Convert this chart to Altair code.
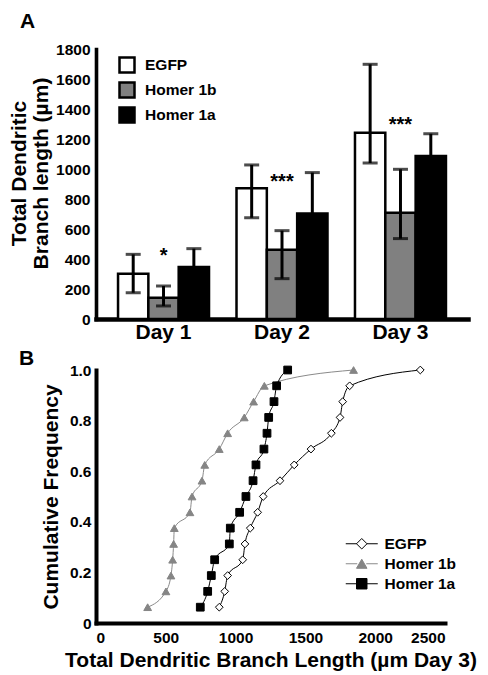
import altair as alt
import pandas as pd

# ---------------- Panel A data ----------------
days = ["Day 1", "Day 2", "Day 3"]
groups = ["EGFP", "Homer 1b", "Homer 1a"]
bar_colors = ["white", "#808080", "black"]

egfp_mean = [302, 871, 1242]
egfp_lo = [175, 675, 1040]
egfp_hi = [431, 1027, 1698]
h1b_mean = [142, 462, 709]
h1b_lo = [87, 269, 536]
h1b_hi = [220, 589, 998]
h1a_mean = [347, 704, 1087]
h1a_lo = [225, 432, 939]
h1a_hi = [469, 976, 1235]

sig_labels = ["*", "***", "***"]
sig_y = [380, 873, 1253]

# ---------------- Panel B data ----------------
cum_freq = [0.0625, 0.125, 0.1875, 0.25, 0.3125, 0.375, 0.4375, 0.5,
            0.5625, 0.625, 0.6875, 0.75, 0.8125, 0.875, 0.9375, 1.0]
egfp_len = [883, 922, 943, 1051, 1067, 1105, 1158, 1198,
            1318, 1420, 1540, 1686, 1748, 1767, 1817, 2323]
h1b_len = [370, 501, 537, 549, 556, 561, 673, 688,
           759, 779, 883, 943, 1062, 1129, 1206, 1845]
h1a_len = [747, 800, 826, 850, 955, 962, 1029, 1074,
           1125, 1146, 1203, 1225, 1237, 1275, 1294, 1373]

# ---------------- tables ----------------
rows = []
for g, m, lo, hi in zip(groups, [egfp_mean, h1b_mean, h1a_mean],
                        [egfp_lo, h1b_lo, h1a_lo], [egfp_hi, h1b_hi, h1a_hi]):
    for d, mv, l, h in zip(days, m, lo, hi):
        rows.append(dict(day=d, group=g, mean=mv, lo=l, hi=h))
bar_df = pd.DataFrame(rows)
star_df = pd.DataFrame({"day": days, "group": ["Homer 1b"] * 3,
                        "y": sig_y, "label": sig_labels})

rows_b = []
for s, lens in zip(groups, [egfp_len, h1b_len, h1a_len]):
    for l, f in zip(lens, cum_freq):
        rows_b.append(dict(series=s, series_line=s, length=l, freq=f))
cdf = pd.DataFrame(rows_b)

BOLD = "bold"

# ---------------- Panel A ----------------
x_enc = alt.X("day:N", sort=days,
              scale=alt.Scale(domain=days, paddingInner=0.232, paddingOuter=0.186),
              axis=alt.Axis(title=None, labelAngle=0, labelFontSize=21, labelPadding=2,
                            domainWidth=4.5))
xo_enc = alt.XOffset("group:N", sort=groups,
                     scale=alt.Scale(domain=groups, paddingInner=0, paddingOuter=0))
y_scale = alt.Scale(domain=[0, 1800], nice=False)
y_axis = alt.Axis(title=["Total Dendritic", "Branch length (µm)"],
                  values=list(range(0, 1801, 200)), format="d",
                  labelPadding=6, titlePadding=4, titleLineHeight=22, titleY=124,
                  domainWidth=3.6)

legend_a = alt.Legend(title=None, orient="none", legendX=22, legendY=7,
                      symbolType="square", symbolSize=225, symbolStrokeColor="black",
                      symbolStrokeWidth=2.5, labelFontSize=15.5, labelFontWeight=BOLD,
                      labelOffset=9, rowPadding=-1, padding=0, labelColor="black")

bars = alt.Chart(bar_df).mark_bar(stroke="black", strokeWidth=2.5).encode(
    x=x_enc, xOffset=xo_enc,
    y=alt.Y("mean:Q", scale=y_scale, axis=y_axis),
    fill=alt.Fill("group:N", scale=alt.Scale(domain=groups, range=bar_colors), legend=legend_a),
)
err = alt.Chart(bar_df).mark_rule(color="black", strokeWidth=3).encode(
    x=x_enc, xOffset=xo_enc,
    y=alt.Y("lo:Q", scale=y_scale, axis=y_axis), y2="hi:Q")
cap_hi = alt.Chart(bar_df).mark_tick(color="black", thickness=3, size=15).encode(
    x=x_enc, xOffset=xo_enc, y=alt.Y("hi:Q", scale=y_scale, axis=y_axis))
cap_lo = alt.Chart(bar_df).mark_tick(color="black", thickness=3, size=15).encode(
    x=x_enc, xOffset=xo_enc, y=alt.Y("lo:Q", scale=y_scale, axis=y_axis))
stars = alt.Chart(star_df).mark_text(fontSize=20, fontWeight=BOLD, baseline="alphabetic",
                                     color="black").encode(
    x=x_enc, xOffset=xo_enc, y=alt.Y("y:Q", scale=y_scale, axis=y_axis), text="label:N")

panel_a = alt.layer(bars, err, cap_hi, cap_lo, stars).properties(
    width=372, height=270,
    title=alt.TitleParams("A", anchor="start", frame="group", fontSize=21, fontWeight=BOLD,
                          dx=-76, offset=-7, baseline="alphabetic", color="black"))

# ---------------- Panel B ----------------
xB = alt.X("length:Q", scale=alt.Scale(domain=[0, 2500], nice=False),
           axis=alt.Axis(title="Total Dendritic Branch Length (µm Day 3)",
                         values=[0, 500, 1000, 1500, 2000, 2500], format="d",
                         labelPadding=7, titlePadding=4, titleLimit=700))
yB = alt.Y("freq:Q", scale=alt.Scale(domain=[0, 1], nice=False),
           axis=alt.Axis(title="Cumulative Frequency", values=[0, 0.2, 0.4, 0.6, 0.8, 1.0],
                         labelExpr="datum.value == 0 ? '0' : format(datum.value, '.1f')",
                         labelPadding=5, titlePadding=8))

legend_line = alt.Legend(title=None, orient="none", legendX=258, legendY=166,
                         symbolType="M-3.2,0H-0.9M0.9,0H3.2", symbolSize=100,
                         symbolStrokeWidth=1.2, labelFontSize=15.5, labelFontWeight=BOLD,
                         labelExpr="' '", labelOpacity=0, rowPadding=3, padding=0,
                         labelOffset=17)
legend_pt = alt.Legend(title=None, orient="none", legendX=258, legendY=166,
                       symbolSize=110, symbolStrokeWidth=1, labelFontSize=15.5,
                       labelFontWeight=BOLD, labelColor="black", rowPadding=3,
                       padding=0, labelOffset=15)

lines = alt.Chart(cdf).mark_line(strokeWidth=1, interpolate="monotone").encode(
    x=xB, y=yB,
    color=alt.Color("series_line:N", sort=groups,
                    scale=alt.Scale(range=["black", "#8a8a8a", "black"]),
                    legend=legend_line))
points = alt.Chart(cdf).mark_point(filled=True, size=60, strokeWidth=1, opacity=1).encode(
    x=xB, y=yB,
    shape=alt.Shape("series:N", scale=alt.Scale(domain=groups,
                                                range=["diamond", "triangle-up", "square"]),
                    legend=legend_pt),
    fill=alt.Fill("series:N", scale=alt.Scale(domain=groups,
                                              range=["white", "#858585", "black"]),
                  legend=legend_pt),
    stroke=alt.Stroke("series:N", scale=alt.Scale(domain=groups,
                                                  range=["black", "#858585", "black"]),
                      legend=legend_pt))

panel_b = alt.layer(lines, points).properties(
    width=349, height=253,
    title=alt.TitleParams("B", anchor="start", frame="group", fontSize=21, fontWeight=BOLD,
                          dx=-77, offset=-21, dy=2, baseline="alphabetic", color="black"))

chart = alt.vconcat(panel_a, panel_b, spacing=51, bounds="flush").resolve_scale(
    fill="independent", shape="independent", stroke="independent", color="independent"
).resolve_legend(
    fill="independent", shape="independent", stroke="independent", color="independent"
).configure(
    font="Liberation Sans", padding={"top": 3, "left": 0, "right": 0, "bottom": 0}
).configure_view(stroke=None).configure_axis(
    domainColor="black", domainWidth=4, ticks=False, grid=False,
    labelFontWeight=BOLD, labelFontSize=15.5, labelColor="black",
    titleColor="black", titleFontWeight=BOLD, titleFontSize=21, domainCap="square"
)

chart.save("out.html", embed_options={"renderer": "svg", "actions": False})
